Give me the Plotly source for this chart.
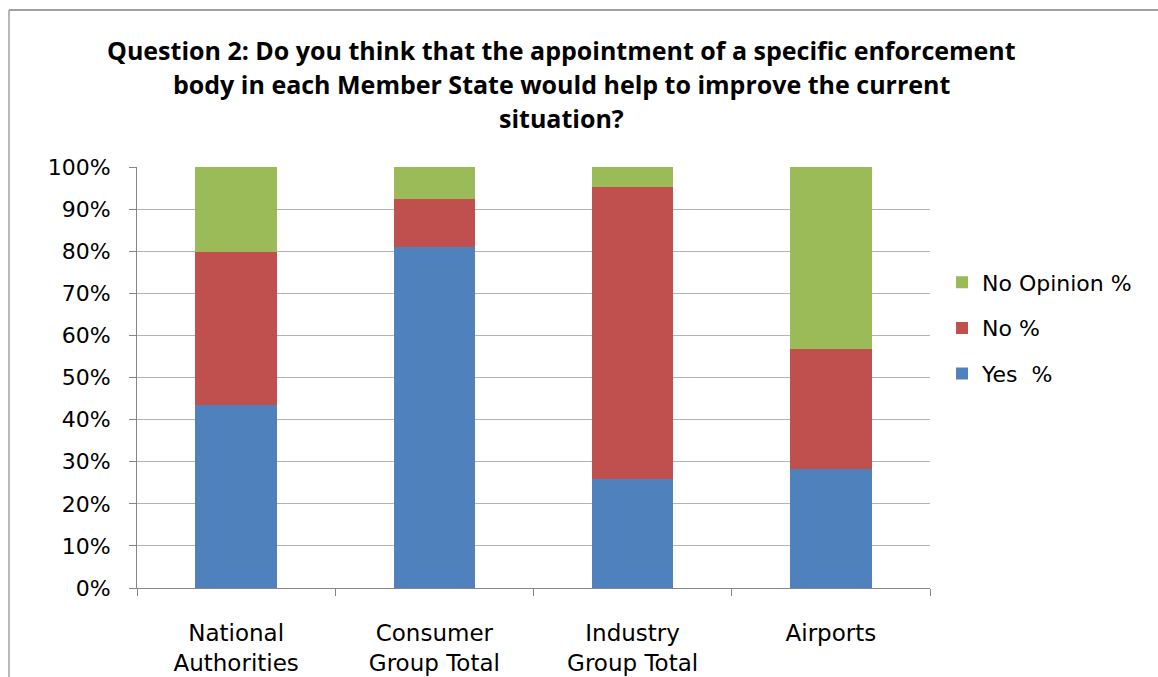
import plotly.graph_objects as go

# Survey responses per stakeholder group (percent of respondents)
categories = ["National<br>Authorities", "Consumer<br>Group Total",
              "Industry<br>Group Total", "Airports"]
yes_pct = [43.4, 81.0, 25.8, 28.2]
no_pct = [36.3, 11.5, 69.5, 28.5]
no_opinion_pct = [20.3, 7.5, 4.7, 43.3]

series = [
    ("Yes  %", yes_pct, "#4F81BD", 3),
    ("No %", no_pct, "#C0504D", 2),
    ("No Opinion %", no_opinion_pct, "#9BBB59", 1),
]

fig = go.Figure()
for i, (name, vals, color, rank) in enumerate(series):
    fig.add_trace(go.Bar(
        x=categories, y=vals, name=name,
        marker=dict(color=color, line=dict(width=0)),
        legendgroup=f"g{i}", legendrank=rank,
    ))

W, H = 1158, 677
L, R, T, B = 137, 228, 167, 89
pw, ph = W - L - R, H - T - B


def px_x(px):
    return (px - L) / pw


def px_y(py):
    return (H - B - py) / ph


title_lines = [
    "Question 2: Do you think that the appointment of a specific enforcement",
    "body in each Member State would help to improve the current",
    "situation?",
]
title_y = [50, 84, 118]
annotations = []
for txt, yy in zip(title_lines, title_y):
    annotations.append(dict(
        text=f"<b>{txt}</b>", xref="paper", yref="paper",
        x=px_x(561), y=px_y(yy), xanchor="center", yanchor="middle",
        showarrow=False,
        font=dict(family="Open Sans", size=25, color="#000000"),
    ))

frame_color = "#a0a0a0"
shapes = [
    dict(type="line", xref="paper", yref="paper",
         x0=px_x(9), x1=px_x(9), y0=px_y(H + 5), y1=px_y(10),
         line=dict(color=frame_color, width=1.5)),
    dict(type="line", xref="paper", yref="paper",
         x0=px_x(9), x1=px_x(W + 5), y0=px_y(10), y1=px_y(10),
         line=dict(color=frame_color, width=2)),
]

fig.update_layout(
    width=W, height=H,
    margin=dict(l=L, r=R, t=T, b=B, pad=0, autoexpand=False),
    paper_bgcolor="white", plot_bgcolor="white",
    barmode="stack", bargap=0.59,
    showlegend=True,
    legend=dict(
        x=px_x(942), y=px_y(328), xanchor="left", yanchor="middle",
        traceorder="grouped", tracegroupgap=14,
        font=dict(family="DejaVu Sans", size=22, color="#000000"),
        bgcolor="rgba(0,0,0,0)", itemwidth=30,
    ),
    xaxis=dict(
        showline=True, linecolor="#868686", linewidth=1,
        ticks="outside", ticklen=7, tickcolor="#868686",
        tickson="boundaries", showgrid=False, ticklabelstandoff=24,
        automargin=False,
        tickfont=dict(family="DejaVu Sans", size=23, color="#000000"),
    ),
    yaxis=dict(
        range=[0, 100], tickvals=list(range(0, 101, 10)),
        ticktext=[f"{v}%" for v in range(0, 101, 10)],
        showline=True, linecolor="#868686", linewidth=1,
        ticks="outside", ticklen=7, tickcolor="#868686",
        showgrid=True, gridcolor="#b3b3b3", gridwidth=1.2,
        zeroline=False, ticklabelstandoff=14, automargin=False,
        tickfont=dict(family="DejaVu Sans", size=22, color="#000000"),
    ),
    annotations=annotations,
    shapes=shapes,
)

fig.write_html("out.html")
